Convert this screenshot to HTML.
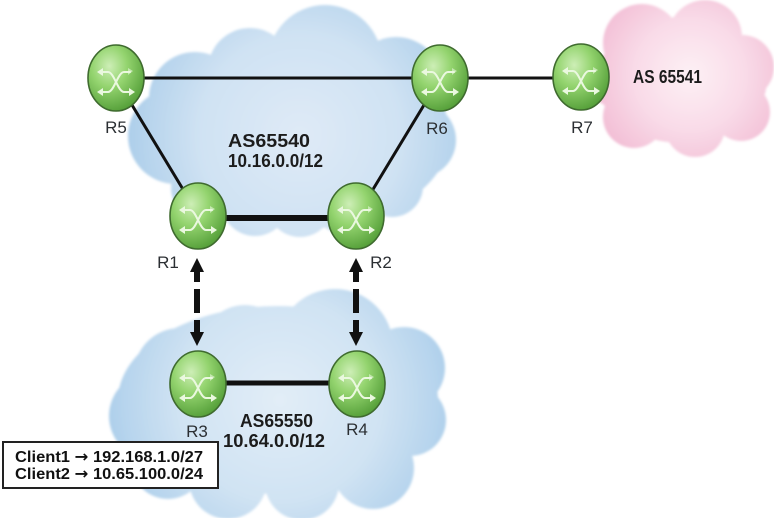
<!DOCTYPE html>
<html>
<head>
<meta charset="utf-8">
<style>
  html, body { margin: 0; padding: 0; background: #ffffff; }
  body { width: 774px; height: 518px; overflow: hidden; }
  svg { display: block; }
  .lbl { font-family: "Liberation Sans", sans-serif; font-size: 17px; fill: #2b2f33; }
  .as { font-family: "Liberation Sans", sans-serif; font-weight: bold; font-size: 18px; fill: #1c1c1c; }
  .cl { font-family: "Liberation Sans", "DejaVu Sans", sans-serif; font-weight: bold; font-size: 16px; fill: #111; }
  .arr { font-family: "DejaVu Sans", sans-serif; font-weight: bold; }
</style>
</head>
<body>
<svg width="774" height="518" viewBox="0 0 774 518" xmlns="http://www.w3.org/2000/svg">
  <defs>
    <radialGradient id="blueTop" gradientUnits="userSpaceOnUse" cx="300" cy="135" r="185">
      <stop offset="0" stop-color="#dfeaf6"/>
      <stop offset="0.55" stop-color="#cfe2f3"/>
      <stop offset="0.85" stop-color="#b5d3ec"/>
      <stop offset="1" stop-color="#a6cae8"/>
    </radialGradient>
    <radialGradient id="blueBot" gradientUnits="userSpaceOnUse" cx="280" cy="400" r="185">
      <stop offset="0" stop-color="#e2edf7"/>
      <stop offset="0.55" stop-color="#d0e3f3"/>
      <stop offset="0.85" stop-color="#b6d4ed"/>
      <stop offset="1" stop-color="#a6cae8"/>
    </radialGradient>
    <radialGradient id="pink" gradientUnits="userSpaceOnUse" cx="690" cy="75" r="110">
      <stop offset="0" stop-color="#fdf0f5"/>
      <stop offset="0.5" stop-color="#f9dbe8"/>
      <stop offset="1" stop-color="#f1b9d2"/>
    </radialGradient>
    <radialGradient id="rg" cx="0.38" cy="0.32" r="0.7">
      <stop offset="0" stop-color="#cdeeb6"/>
      <stop offset="0.45" stop-color="#94d46f"/>
      <stop offset="1" stop-color="#56a03a"/>
    </radialGradient>
    <filter id="soft" x="-5%" y="-5%" width="110%" height="110%">
      <feGaussianBlur stdDeviation="1.4"/>
    </filter>
    <g id="router">
      <ellipse cx="0" cy="0" rx="28" ry="33" fill="url(#rg)" stroke="#3f6b2f" stroke-width="1.6"/>
      <g fill="none" stroke="#eaf8df" stroke-width="2" stroke-linecap="round">
        <path d="M -16,-6 H -8 C -2,-6 2,14 8,14 H 16"/>
        <path d="M -16,14 H -8 C -2,14 2,-6 8,-6 H 14"/>
      </g>
      <g fill="#eaf8df">
        <path d="M -19,-6 L -13,-10 L -13,-2 Z"/>
        <path d="M -19,14 L -13,10 L -13,18 Z"/>
        <path d="M 19,14 L 13,10 L 13,18 Z"/>
        <path d="M 17,-7 L 12,-10 L 12,-3 Z" opacity="0.6"/>
      </g>
    </g>
  </defs>

  <!-- Top blue cloud AS65540 -->
  <g fill="url(#blueTop)" filter="url(#soft)">
    <ellipse cx="300" cy="135" rx="150" ry="94"/>
    <circle cx="325" cy="62" r="57"/>
    <circle cx="250" cy="70" r="42"/>
    <circle cx="195" cy="98" r="46"/>
    <circle cx="176" cy="136" r="48"/>
    <circle cx="205" cy="188" r="34"/>
    <circle cx="396" cy="84" r="47"/>
    <circle cx="418" cy="140" r="38"/>
    <circle cx="255" cy="202" r="34"/>
    <circle cx="300" cy="204" r="33"/>
    <circle cx="347" cy="199" r="36"/>
    <circle cx="392" cy="186" r="31"/>
  </g>

  <!-- Lower blue cloud AS65550 -->
  <g fill="url(#blueBot)" filter="url(#soft)">
    <ellipse cx="278" cy="400" rx="160" ry="94"/>
    <circle cx="335" cy="347" r="58"/>
    <circle cx="245" cy="349" r="44"/>
    <circle cx="180" cy="374" r="46"/>
    <circle cx="153" cy="416" r="44"/>
    <circle cx="404" cy="368" r="41"/>
    <circle cx="410" cy="420" r="36"/>
    <circle cx="168" cy="462" r="37"/>
    <circle cx="228" cy="480" r="39"/>
    <circle cx="302" cy="483" r="37"/>
    <circle cx="373" cy="468" r="41"/>
  </g>

  <!-- Pink cloud AS 65541 -->
  <g fill="url(#pink)" filter="url(#soft)">
    <ellipse cx="682" cy="80" rx="85" ry="63"/>
    <circle cx="642" cy="43" r="39"/>
    <circle cx="705" cy="37" r="37"/>
    <circle cx="742" cy="67" r="32"/>
    <circle cx="741" cy="112" r="29"/>
    <circle cx="695" cy="127" r="30"/>
    <circle cx="634" cy="117" r="31"/>
    <circle cx="615" cy="80" r="27"/>
  </g>

  <!-- Connectors -->
  <g stroke="#111" fill="none">
    <line x1="144" y1="78" x2="412" y2="78" stroke-width="3"/>
    <line x1="468" y1="78" x2="555" y2="78" stroke-width="3"/>
    <line x1="132" y1="105" x2="184" y2="191" stroke-width="3"/>
    <line x1="424" y1="105" x2="372" y2="191" stroke-width="3"/>
    <line x1="224" y1="218" x2="330" y2="218" stroke-width="6"/>
    <line x1="224" y1="383" x2="331" y2="383" stroke-width="5"/>
  </g>

  <!-- Dashed arrows -->
  <g fill="#111">
    <path d="M197,258 L204,272 L190,272 Z"/>
    <rect x="194" y="271" width="6" height="11"/>
    <rect x="194" y="289" width="6" height="24"/>
    <rect x="194" y="320" width="6" height="14"/>
    <path d="M197,346 L204,332 L190,332 Z"/>

    <path d="M356,258 L363,272 L349,272 Z"/>
    <rect x="353" y="271" width="6" height="11"/>
    <rect x="353" y="289" width="6" height="24"/>
    <rect x="353" y="320" width="6" height="14"/>
    <path d="M356,346 L363,332 L349,332 Z"/>
  </g>

  <!-- Routers -->
  <use href="#router" x="116" y="78"/>
  <use href="#router" x="440" y="78"/>
  <use href="#router" x="581" y="77"/>
  <use href="#router" x="198" y="216"/>
  <use href="#router" x="356" y="216"/>
  <use href="#router" x="198" y="384"/>
  <use href="#router" x="357" y="384"/>

  <!-- Router labels -->
  <text class="lbl" x="116" y="133" text-anchor="middle">R5</text>
  <text class="lbl" x="437" y="134" text-anchor="middle">R6</text>
  <text class="lbl" x="582" y="133" text-anchor="middle">R7</text>
  <text class="lbl" x="168" y="268" text-anchor="middle">R1</text>
  <text class="lbl" x="381" y="268" text-anchor="middle">R2</text>
  <text class="lbl" x="197" y="437" text-anchor="middle">R3</text>
  <text class="lbl" x="357" y="435" text-anchor="middle">R4</text>

  <!-- AS labels -->
  <text class="as" x="228" y="147" textLength="82" lengthAdjust="spacingAndGlyphs">AS65540</text>
  <text class="as" x="228" y="167" textLength="95" lengthAdjust="spacingAndGlyphs">10.16.0.0/12</text>
  <text class="as" x="240" y="427" textLength="73" lengthAdjust="spacingAndGlyphs">AS65550</text>
  <text class="as" x="223" y="447" textLength="102" lengthAdjust="spacingAndGlyphs">10.64.0.0/12</text>
  <text class="as" x="633" y="83" textLength="69" lengthAdjust="spacingAndGlyphs">AS 65541</text>

  <!-- Client box -->
  <rect x="3" y="442" width="215" height="46" fill="#ffffff" stroke="#222" stroke-width="2"/>
  <text class="cl" x="15" y="462" textLength="188" lengthAdjust="spacingAndGlyphs">Client1 <tspan class="arr">→</tspan> 192.168.1.0/27</text>
  <text class="cl" x="15" y="479" textLength="188" lengthAdjust="spacingAndGlyphs">Client2 <tspan class="arr">→</tspan> 10.65.100.0/24</text>
</svg>
</body>
</html>
